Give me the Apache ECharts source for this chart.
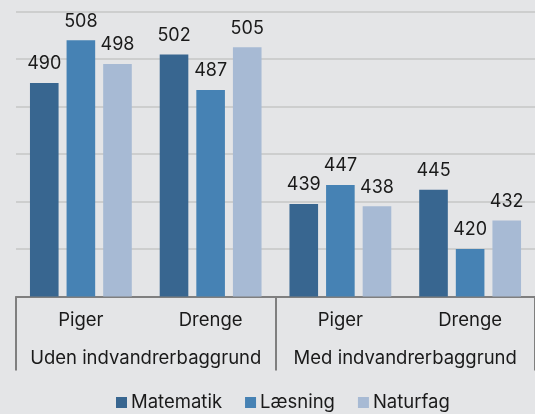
<!DOCTYPE html>
<html>
<head>
<meta charset="utf-8">
<script src="https://cdn.jsdelivr.net/npm/echarts@6/dist/echarts.min.js"></script>
<style>
html,body{margin:0;padding:0;background:#e4e5e7;}
#chart{width:535px;height:414px;}
</style>
</head>
<body>
<div id="chart"></div>
<script>
var subCategories = ['Piger', 'Drenge', 'Piger', 'Drenge'];
var groups = ['Uden indvandrerbaggrund', 'Med indvandrerbaggrund'];
var seriesNames = ['Matematik', 'Læsning', 'Naturfag'];
var matematik = [490, 502, 439, 445];
var laesning = [508, 487, 447, 420];
var naturfag = [498, 505, 438, 432];
var colors = ['#386690', '#4682b4', '#a7bad4'];

var FONT = 'Inter';
var FS = 18;
var FT = 18.5;
var chart = echarts.init(document.getElementById('chart'), null, {renderer: 'canvas'});
function mk(name, data, color) {
  return {
    name: name, type: 'bar', data: data, xAxisIndex: 0,
    barWidth: 28.6, barGap: '28%',
    itemStyle: {color: color},
    label: {show: true, position: 'top', distance: 10, color: '#1a1a1a', fontFamily: FONT, fontSize: FS}
  };
}
chart.setOption({
  backgroundColor: '#e4e5e7',
  animation: false,
  textStyle: {fontFamily: FONT},
  grid: {left: 16, right: -3, top: 11.7, bottom: 117.5, containLabel: false},
  legend: {
    bottom: 2, left: 116, padding: 0,
    icon: 'rect', itemWidth: 11, itemHeight: 11, itemGap: 23,
    textStyle: {fontFamily: FONT, fontSize: FT, color: '#1a1a1a', padding: [0, 0, 0, -1]},
    data: seriesNames
  },
  xAxis: [
    {
      type: 'category', data: subCategories, position: 'bottom',
      axisLine: {show: true, lineStyle: {color: '#7f7f7f', width: 2}},
      axisTick: {show: false},
      axisLabel: {interval: 0, margin: 14, fontFamily: FONT, fontSize: FT, color: '#1a1a1a'}
    },
    {
      type: 'category', data: groups, position: 'bottom', offset: 0,
      axisLine: {show: false},
      axisTick: {show: true, interval: 0, length: 74, lineStyle: {color: '#7f7f7f', width: 2}},
      axisLabel: {interval: 0, margin: 52, fontFamily: FONT, fontSize: FT, color: '#1a1a1a', hideOverlap: false},
      splitLine: {show: false}
    }
  ],
  yAxis: {
    type: 'value', min: 400, max: 520, interval: 20,
    axisLabel: {show: false}, axisLine: {show: false}, axisTick: {show: false},
    splitLine: {lineStyle: {color: '#c6c6c6', width: 1.5}}
  },
  series: [
    mk(seriesNames[0], matematik, colors[0]),
    mk(seriesNames[1], laesning, colors[1]),
    mk(seriesNames[2], naturfag, colors[2])
  ]
});
</script>
</body>
</html>
